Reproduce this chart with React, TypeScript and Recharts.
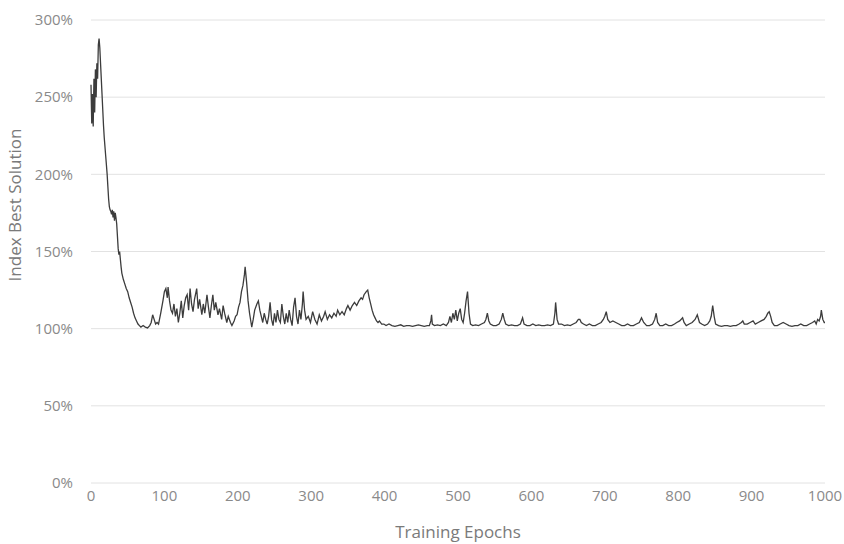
import React from "react";
import { LineChart, Line, XAxis, YAxis, CartesianGrid } from "recharts";

// [epoch, index of best solution in %]
const descent: [number, number][] = [
  [0, 258], [1, 233], [2, 252], [3, 231], [4, 262], [5, 240], [6, 268], [7, 250],
  [8, 272], [9, 262], [10, 284], [11, 288], [12, 282], [13, 272], [14, 262], [15, 252],
  [16, 242], [17, 232], [18, 224], [19, 218], [20, 212], [21, 206], [22, 200], [23, 192],
  [24, 184], [25, 179], [26, 177], [27, 176], [28, 174], [29, 177], [30, 172], [31, 176],
  [32, 170], [33, 175], [34, 172], [35, 168], [36, 160], [37, 152], [38, 148], [39, 150],
  [40, 145], [41, 140], [42, 136], [44, 132], [46, 129], [48, 126], [50, 124], [52, 120],
  [54, 117], [56, 114], [58, 110], [60, 107], [62, 105], [64, 103], [66, 102],
];

const noisyPhase: [number, number][] = [
  [68, 101], [71, 102], [74, 101], [77, 100.5], [80, 102], [82, 104], [84, 109], [86, 106],
  [88, 103], [90, 104], [92, 103], [95, 110], [98, 118], [100, 124], [102, 126], [104, 120],
  [105, 127], [107, 118], [109, 112], [111, 110], [113, 116], [115, 108], [117, 113], [119, 104],
  [121, 110], [123, 118], [125, 107], [127, 115], [129, 120], [131, 122], [133, 112], [135, 126],
  [137, 116], [139, 111], [141, 119], [144, 126], [146, 113], [148, 119], [151, 109], [153, 116],
  [155, 110], [158, 122], [160, 114], [162, 107], [164, 115], [166, 122], [168, 112], [170, 117],
  [173, 109], [175, 113], [178, 106], [180, 115], [182, 110], [185, 104], [187, 108], [190, 104],
  [192, 102], [195, 105], [197, 108], [199, 109], [201, 114], [203, 117], [205, 124], [207, 128],
  [209, 135], [210, 140], [212, 130], [214, 118], [216, 110], [218, 104], [219, 101], [221, 106],
  [223, 112], [226, 116], [228, 118], [230, 112], [232, 108], [234, 104], [236, 110], [238, 106],
  [240, 103], [242, 108], [244, 117], [246, 106], [248, 102], [250, 110], [252, 104], [254, 112],
  [256, 106], [258, 104], [260, 116], [262, 108], [264, 103], [266, 110], [268, 104], [270, 112],
  [272, 106], [274, 102], [276, 114], [278, 120], [280, 108], [282, 103], [284, 112], [286, 106],
  [288, 116], [289, 124], [291, 112], [293, 106], [296, 108], [299, 104], [302, 111], [305, 106],
  [308, 103], [311, 109], [314, 105], [317, 108], [319, 111], [322, 106], [325, 109], [328, 107],
  [331, 110], [334, 108], [336, 112], [339, 109], [342, 111], [345, 109], [348, 113], [350, 115],
  [353, 112], [356, 115], [359, 117], [362, 115], [365, 118], [368, 120], [370, 119], [372, 122],
  [375, 124], [377, 125], [379, 120], [381, 116], [383, 112], [385, 109], [387, 107], [389, 105],
  [391, 104], [393, 105], [396, 103], [399, 103],
];

const plateau: [number, number][] = [
  [402, 102], [406, 103], [410, 102], [414, 101.5], [418, 102], [422, 102.5], [426, 101.5], [430, 102],
  [434, 102], [438, 101.5], [442, 102], [446, 102.5], [450, 102], [454, 101.5], [458, 102], [461, 102],
  [463, 105], [464, 109], [465, 103], [468, 102], [472, 102.5], [476, 102], [480, 103], [484, 102],
  [487, 104], [489, 108], [491, 104], [493, 110], [495, 106], [497, 112], [499, 105], [501, 110],
  [503, 113], [505, 106], [507, 104], [509, 110], [511, 118], [513, 124], [515, 110], [517, 103],
  [520, 102], [524, 102.5], [528, 102], [532, 103], [536, 104], [538, 106], [540, 110], [542, 105],
  [544, 103], [548, 102], [552, 102], [556, 103], [559, 106], [561, 110], [563, 106], [565, 103],
  [569, 102], [573, 102.5], [577, 102], [581, 102], [585, 103], [588, 107], [590, 103], [594, 102],
  [598, 102], [602, 103], [606, 102], [610, 102.5], [614, 102], [618, 102], [622, 102.5], [626, 102],
  [630, 103], [632, 110], [633, 117], [635, 106], [637, 103], [641, 103], [645, 102], [649, 102.5],
  [653, 102], [657, 103], [661, 104], [664, 106], [666, 106], [668, 104], [671, 103], [675, 102],
  [679, 103], [683, 102], [687, 102], [691, 103], [695, 104], [698, 106], [700, 108], [702, 111],
  [704, 106], [707, 104], [711, 105], [715, 104], [719, 103], [723, 102], [727, 102], [731, 103],
  [735, 102], [739, 102], [743, 103], [747, 104], [750, 107], [753, 104], [757, 102], [761, 102],
  [765, 103], [768, 106], [770, 110], [772, 104], [775, 102], [779, 102], [783, 103], [787, 102],
  [791, 102], [795, 103], [798, 104], [802, 105], [806, 107], [808, 104], [811, 102], [815, 103],
  [819, 104], [823, 106], [826, 109], [829, 104], [832, 103], [836, 102], [840, 103], [843, 105],
  [845, 108], [847, 115], [849, 108], [851, 103], [855, 102], [859, 101.5], [863, 102], [867, 102],
  [871, 101.5], [875, 102], [879, 102], [883, 103], [886, 104], [888, 105], [890, 103], [894, 103],
  [898, 104], [902, 105], [905, 103], [909, 104], [913, 105], [917, 106], [920, 108], [922, 110],
  [924, 111], [926, 108], [928, 104], [931, 102], [935, 102], [939, 103], [943, 104], [947, 103],
  [951, 102], [955, 101.5], [959, 102], [963, 102], [967, 103], [971, 102], [975, 102], [979, 103],
  [983, 104], [986, 105], [988, 103], [990, 106], [992, 105], [994, 108], [995, 112], [997, 106],
  [999, 104], [1000, 104],
];

const epochTicks = [0, 100, 200, 300, 400, 500, 600, 700, 800, 900, 1000];
const percentTicks = [0, 50, 100, 150, 200, 250, 300];

const data = [...descent, ...noisyPhase, ...plateau].map(([epoch, value]) => ({
  epoch,
  value,
}));

const font = "'Open Sans', sans-serif";
const tickStyle = { fontSize: 15, fill: "#8a8a8a", fontFamily: font };

export default function App() {
  return (
    <div style={{ position: "absolute", left: 0, top: 0, background: "#fff" }}>
      <LineChart
        width={844}
        height={544}
        data={data}
        margin={{ top: 20, right: 19, bottom: 0, left: 0 }}
      >
        <CartesianGrid horizontal vertical={false} stroke="#e2e2e2" />
        <XAxis
          type="number"
          dataKey="epoch"
          domain={[0, 1000]}
          ticks={epochTicks}
          height={61}
          axisLine={false}
          tickLine={false}
          tickSize={0}
          tickMargin={7}
          tick={tickStyle}
          label={{
            value: "Training Epochs",
            position: "insideBottom",
            offset: 6,
            style: { fontSize: 17, fill: "#7a7a7a", fontFamily: font },
          }}
        />
        <YAxis
          type="number"
          domain={[0, 300]}
          ticks={percentTicks}
          width={91}
          axisLine={false}
          tickLine={false}
          tickSize={0}
          tickMargin={18}
          tick={tickStyle}
          tickFormatter={(v) => `${v}%`}
          label={{
            content: () => (
              <text
                x={16}
                y={205}
                transform="rotate(-90, 16, 205)"
                textAnchor="middle"
                dominantBaseline="middle"
                fontSize={17}
                fill="#7a7a7a"
                fontFamily={font}
              >
                Index Best Solution
              </text>
            ),
          }}
        />
        <Line
          type="linear"
          dataKey="value"
          stroke="#3c3c3c"
          strokeWidth={1.3}
          dot={false}
          isAnimationActive={false}
        />
      </LineChart>
    </div>
  );
}
